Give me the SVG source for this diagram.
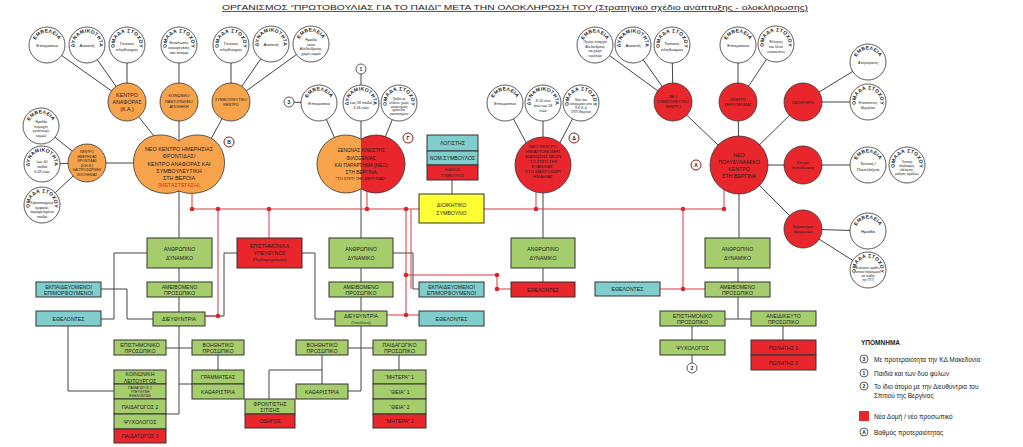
<svg xmlns="http://www.w3.org/2000/svg" width="1023" height="447" viewBox="0 0 1023 447">
<defs>
<path id="arc" d="M -11.75 4.28 A 12.5 12.5 0 1 1 11.75 4.28"/>
<linearGradient id="venn" x1="0" y1="0" x2="1" y2="0"><stop offset="0.5" stop-color="#f6a34c"/><stop offset="0.5" stop-color="#e8262b"/></linearGradient>
</defs>
<style>
text{font-family:"Liberation Sans",Arial,sans-serif;fill:#222;text-anchor:middle}
.w{fill:#fff;stroke:#333;stroke-width:0.8}
.o{fill:#f6a34c;stroke:#333;stroke-width:0.8}
.r{fill:#e8262b;stroke:#333;stroke-width:0.8}
.g{fill:#a6cd6c;stroke:#333;stroke-width:1}
.t{fill:#7fcdcd;stroke:#333;stroke-width:1}
.rb{fill:#e8262b;stroke:#333;stroke-width:1}
.yb{fill:#ffff33;stroke:#333;stroke-width:1}
.ln{stroke:#444;stroke-width:1;fill:none}
.rl{stroke:#d8393f;stroke-width:1;fill:none}
.dot{fill:#d8262e}
.ct{font-size:5px;font-weight:bold;letter-spacing:0.3px}
.ci{font-size:4.4px}
.cs{font-size:3.6px}
.fc{font-size:4.6px}
.fs{font-size:3.8px}
.bt{font-size:5.2px}
.bs{font-size:3.8px}
.pr{fill:#fff;stroke:#8b1a1a;stroke-width:1}
.nm{fill:#fff;stroke:#333;stroke-width:0.8}
.pl{font-size:5px;font-weight:bold}
.lg{font-size:6.5px;text-anchor:start}
</style>

<text x="222" y="10" font-size="7.5" style="text-anchor:start" textLength="586" lengthAdjust="spacingAndGlyphs" text-decoration="underline">ΟΡΓΑΝΙΣΜΟΣ “ΠΡΩΤΟΒΟΥΛΙΑΣ ΓΙΑ ΤΟ ΠΑΙΔΙ” ΜΕΤΑ ΤΗΝ ΟΛΟΚΛΗΡΩΣΗ ΤΟΥ (Στρατηγικό σχέδιο ανάπτυξης - ολοκλήρωσης)</text>

<g id="connectors">
<!-- left top cluster -->
<path class="ln" d="M47,45 L127,102 M87,45 L127,102 M127,45 L127,102 M179,45 L179,102 M231,45 L231,102 M271,44 L231,102 M311,44 L231,102"/>
<path class="ln" d="M127,102 L165,150 M179,102 L179,150 M231,102 L205,150"/>
<path class="ln" d="M41,126 L87,163 M42,164 L87,163 M42,205 L87,163 M87,163 L140,163"/>
<!-- venn cluster -->
<path class="ln" d="M289,102 L319,103 M361,69 L361,103 M319,103 L340,150 M399,103 L380,150 M361,103 L361,238"/>
<!-- col3 cluster -->
<path class="ln" d="M505,103 L530,150 M581,103 L556,150 M543,103 L543,238 M543,268 L543,282"/>
<!-- right cluster -->
<path class="ln" d="M595,45 L673,102 M633,45 L673,102 M672,45 L673,102 M673,102 L739,165 M738,45 L738,102 M776,45 L738,102 M738,102 L739,165 M803,102 L739,165 M803,102 L868,62 M803,102 L868,102 M739,165 L868,165 M739,165 L803,229 M803,229 L868,231 M803,229 L868,270"/>
<!-- col1 tree -->
<path class="ln" d="M179,180 L179,414 L166,414 M147,253 L114,253 L114,319 L101,319 M101,289 L127,289 L127,319 L153,319 M68,326 L68,391 L114,391 M166,348 L192,348 M218,355 L218,370 M179,384 L192,384 M237,253 L224,253 L224,316 L205,316"/>
<!-- col2 tree -->
<path class="ln" d="M361,268 L361,391 L348,391 M302,253 L315,253 L315,319 L335,319 M393,253 L413,253 L413,289 L419,289 M348,348 L373,348 M322,355 L322,384 M322,370 L269,370 L269,399 M399,355 L399,370 M452,180 L452,194"/>
<!-- col4 tree -->
<path class="ln" d="M739,165 L739,238 M738,268 L738,319 M725,319 L751,319 M692,326 L692,340 M783,326 L783,340 M692,355 L692,363"/>
<!-- red network -->
<path class="rl" d="M192,185 L192,209 L724,209 L724,188 M367,185 L367,209 M536,190 L536,209 M218,209 L218,316 L205,316 M269,209 L269,238 M406,209 L406,315 L419,315 M387,315 L406,315 M411,209 L411,289 M406,275 L497,275 L497,289 L511,289 M683,209 L683,289 M660,289 L705,289"/>
<g class="dot">
<circle cx="192" cy="209" r="2.3"/><circle cx="218" cy="209" r="2.3"/><circle cx="269" cy="209" r="2.3"/><circle cx="367" cy="209" r="2.3"/><circle cx="406" cy="209" r="2.3"/><circle cx="536" cy="209" r="2.3"/><circle cx="683" cy="209" r="2.3"/><circle cx="724" cy="209" r="2.3"/>
<circle cx="218" cy="316" r="2.3"/><circle cx="406" cy="315" r="2.3"/><circle cx="406" cy="275" r="2.3"/><circle cx="497" cy="275" r="2.3"/><circle cx="497" cy="289" r="2.3"/><circle cx="683" cy="289" r="2.3"/>
</g>
</g>

<!-- white circles -->
<g id="c1" transform="translate(47,45)"><circle class="w" r="18"/><text class="ct"><textPath href="#arc" startOffset="50%">ΕΜΒΕΛΕΙΑ</textPath></text><text class="ci" y="2">Επικράτεια</text></g>
<g id="c2" transform="translate(87,45)"><circle class="w" r="18"/><text class="ct"><textPath href="#arc" startOffset="50%">ΔΥΝΑΜΙΚΟΤΗΤΑ</textPath></text><text class="ci" y="2">Ανοικτή</text></g>
<g id="c3" transform="translate(127,45)"><circle class="w" r="18"/><text class="ct"><textPath href="#arc" startOffset="50%">ΟΜΑΔΑ ΣΤΟΧΟΥ</textPath></text><text class="ci"><tspan x="0" y="0">Γενικός</tspan><tspan x="0" y="5.5">πληθυσμός</tspan></text></g>
<g id="c4" transform="translate(179,45)"><circle class="w" r="18"/><text class="ct"><textPath href="#arc" startOffset="50%">ΟΜΑΔΑ ΣΤΟΧΟΥ</textPath></text><text class="ci"><tspan x="0" y="-1">Ευάλωτες</tspan><tspan x="0" y="4">οικογένειες</tspan><tspan x="0" y="9">και άτομα</tspan></text></g>
<g id="c5" transform="translate(231,45)"><circle class="w" r="18"/><text class="ct"><textPath href="#arc" startOffset="50%">ΟΜΑΔΑ ΣΤΟΧΟΥ</textPath></text><text class="ci"><tspan x="0" y="0">Γενικός</tspan><tspan x="0" y="5.5">πληθυσμός</tspan></text></g>
<g id="c6" transform="translate(271,44)"><circle class="w" r="18"/><text class="ct"><textPath href="#arc" startOffset="50%">ΔΥΝΑΜΙΚΟΤΗΤΑ</textPath></text><text class="ci" y="2">Ανοικτή</text></g>
<g id="c7" transform="translate(311,44)"><circle class="w" r="18"/><text class="ct"><textPath href="#arc" startOffset="50%">ΕΜΒΕΛΕΙΑ</textPath></text><text class="cs"><tspan x="0" y="-3">Ημαθία</tspan><tspan x="0" y="1.5">νότιο</tspan><tspan x="0" y="6">Αλεξάνδρειας,</tspan><tspan x="0" y="10.5">χώρο νομού</tspan></text></g>
<g id="c8" transform="translate(41,126)"><circle class="w" r="18"/><text class="ct"><textPath href="#arc" startOffset="50%">ΕΜΒΕΛΕΙΑ</textPath></text><text class="cs"><tspan x="0" y="-3">Ημαθία</tspan><tspan x="0" y="1.5">περιοχές</tspan><tspan x="0" y="6">γειτονικών</tspan><tspan x="0" y="10.5">νομών</tspan></text></g>
<g id="c9" transform="translate(42,164)"><circle class="w" r="18"/><text class="ct"><textPath href="#arc" startOffset="50%">ΔΥΝΑΜΙΚΟΤΗΤΑ</textPath></text><text class="cs"><tspan x="0" y="-1">έως 40</tspan><tspan x="0" y="4">παιδιά</tspan><tspan x="0" y="9">6-18 ετών</tspan></text></g>
<g id="c10" transform="translate(42,205)"><circle class="w" r="18"/><text class="ct"><textPath href="#arc" startOffset="50%">ΟΜΑΔΑ ΣΤΟΧΟΥ</textPath></text><text class="cs"><tspan x="0" y="-1">Κακοποιημένα</tspan><tspan x="0" y="3.5">ορφανά,</tspan><tspan x="0" y="8">παραμελημένα</tspan><tspan x="0" y="12.5">παιδιά</tspan></text></g>
<g id="c11" transform="translate(319,103)"><circle class="w" r="18"/><text class="ct"><textPath href="#arc" startOffset="50%">ΕΜΒΕΛΕΙΑ</textPath></text><text class="ci" y="2">Επικράτεια</text></g>
<g id="c12" transform="translate(361,103)"><circle class="w" r="18"/><text class="ct"><textPath href="#arc" startOffset="50%">ΔΥΝΑΜΙΚΟΤΗΤΑ</textPath></text><text class="cs"><tspan x="0" y="1">έως 28 παιδιά</tspan><tspan x="0" y="6">3-18 ετών</tspan></text></g>
<g id="c13" transform="translate(399,103)"><circle class="w" r="18"/><text class="ct"><textPath href="#arc" startOffset="50%">ΟΜΑΔΑ ΣΤΟΧΟΥ</textPath></text><text style="font-size:3px"><tspan x="0" y="-3">Παιδιά σε</tspan><tspan x="0" y="0.8">κίνδυνο, χωρίς</tspan><tspan x="0" y="4.6">οικογενειακή</tspan><tspan x="0" y="8.4">φροντίδα,</tspan><tspan x="0" y="12.2">κακοποιημένα</tspan></text></g>
<g id="c14" transform="translate(505,103)"><circle class="w" r="18"/><text class="ct"><textPath href="#arc" startOffset="50%">ΕΜΒΕΛΕΙΑ</textPath></text><text class="ci" y="2">Επικράτεια</text></g>
<g id="c15" transform="translate(543,103)"><circle class="w" r="18"/><text class="ct"><textPath href="#arc" startOffset="50%">ΔΥΝΑΜΙΚΟΤΗΤΑ</textPath></text><text class="cs"><tspan x="0" y="-1">8-10 νέοι</tspan><tspan x="0" y="4">άνω των 18</tspan><tspan x="0" y="9">ετών</tspan></text></g>
<g id="c16" transform="translate(581,103)"><circle class="w" r="18"/><text class="ct"><textPath href="#arc" startOffset="50%">ΟΜΑΔΑ ΣΤΟΧΟΥ</textPath></text><text style="font-size:3px"><tspan x="0" y="-2">Νέοι που</tspan><tspan x="0" y="2">αποχωρούν από</tspan><tspan x="0" y="6">Κ.Κ.Φ. &amp;</tspan><tspan x="0" y="10">ΣΠΙΤΙ Βεργίνας</tspan></text></g>
<g id="c17" transform="translate(595,45)"><circle class="w" r="18"/><text class="ct"><textPath href="#arc" startOffset="50%">ΕΜΒΕΛΕΙΑ</textPath></text><text style="font-size:3.3px"><tspan x="0" y="-2">Πρώην επαρχία</tspan><tspan x="0" y="2.5">Αλεξάνδρειας</tspan><tspan x="0" y="7">και χώρο</tspan><tspan x="0" y="11.5">ευρύτερα</tspan></text></g>
<g id="c18" transform="translate(633,45)"><circle class="w" r="18"/><text class="ct"><textPath href="#arc" startOffset="50%">ΔΥΝΑΜΙΚΟΤΗΤΑ</textPath></text><text class="ci" y="2">Ανοικτή</text></g>
<g id="c19" transform="translate(672,45)"><circle class="w" r="18"/><text class="ct"><textPath href="#arc" startOffset="50%">ΟΜΑΔΑ ΣΤΟΧΟΥ</textPath></text><text class="ci"><tspan x="0" y="0">Τοπικός</tspan><tspan x="0" y="5.5">πληθυσμός</tspan></text></g>
<g id="c20" transform="translate(738,45)"><circle class="w" r="18"/><text class="ct"><textPath href="#arc" startOffset="50%">ΕΜΒΕΛΕΙΑ</textPath></text><text class="ci" y="2">Επικράτεια</text></g>
<g id="c21" transform="translate(776,44)"><circle class="w" r="18"/><text class="ct"><textPath href="#arc" startOffset="50%">ΟΜΑΔΑ ΣΤΟΧΟΥ</textPath></text><text class="cs"><tspan x="0" y="-1">Έλληνες</tspan><tspan x="0" y="4">και ξένοι</tspan><tspan x="0" y="9">επισκέπτες</tspan></text></g>
<g id="c22" transform="translate(868,62)"><circle class="w" r="18"/><text class="ct"><textPath href="#arc" startOffset="50%">ΕΜΒΕΛΕΙΑ</textPath></text><text class="cs" y="2">Απεριόριστη</text></g>
<g id="c23" transform="translate(868,102)"><circle class="w" r="18"/><text class="ct"><textPath href="#arc" startOffset="50%">ΟΜΑΔΑ ΣΤΟΧΟΥ</textPath></text><text class="cs"><tspan x="0" y="2">Επισκέπτες</tspan><tspan x="0" y="7">Βεργίνας</tspan></text></g>
<g id="c24" transform="translate(868,165)"><circle class="w" r="18"/><text class="ct"><textPath href="#arc" startOffset="50%">ΕΜΒΕΛΕΙΑ</textPath></text><text class="ci"><tspan x="0" y="0">Τοπική /</tspan><tspan x="0" y="6">Πανελλήνια</tspan></text></g>
<g id="c25" transform="translate(907,165)"><circle class="w" r="18"/><text class="ct"><textPath href="#arc" startOffset="50%">ΟΜΑΔΑ ΣΤΟΧΟΥ</textPath></text><text style="font-size:3px"><tspan x="0" y="-2">Τοπικός</tspan><tspan x="0" y="2">πληθυσμός,</tspan><tspan x="0" y="6">εθελοντές,</tspan><tspan x="0" y="10">μαθητές σχολείων</tspan></text></g>
<g id="c26" transform="translate(868,231)"><circle class="w" r="18"/><text class="ct"><textPath href="#arc" startOffset="50%">ΕΜΒΕΛΕΙΑ</textPath></text><text class="ci" y="2">Ημαθία</text></g>
<g id="c27" transform="translate(868,270)"><circle class="w" r="18"/><text class="ct"><textPath href="#arc" startOffset="50%">ΟΜΑΔΑ ΣΤΟΧΟΥ</textPath></text><text style="font-size:3px"><tspan x="0" y="-1">Ευάλωτες ομάδες,</tspan><tspan x="0" y="3">τοπικοί παραγωγοί,</tspan><tspan x="0" y="7">και παιδιά</tspan><tspan x="0" y="11">της ΠΓΠ</tspan></text></g>

<!-- filled small circles -->
<g id="o1"><circle class="o" cx="127" cy="102" r="19"/><text style="font-size:5.3px"><tspan x="127" y="97">ΚΕΝΤΡΟ</tspan><tspan x="127" y="104">ΑΝΑΦΟΡΑΣ</tspan><tspan x="127" y="111">(Κ.Α.)</tspan></text></g>
<g id="o2"><circle class="o" cx="179" cy="102" r="19"/><text class="fs"><tspan x="179" y="97">ΚΟΙΝΩΝΙΚΟ</tspan><tspan x="179" y="102.5">ΠΑΝΤΟΠΩΛΕΙΟ</tspan><tspan x="179" y="108">ΑΠΟΘΗΚΗ</tspan></text></g>
<g id="o3"><circle class="o" cx="231" cy="102" r="19"/><text class="fs"><tspan x="231" y="101">ΣΥΜΒΟΥΛΕΥΤΙΚΟ</tspan><tspan x="231" y="106">ΚΕΝΤΡΟ</tspan></text></g>
<g id="o4"><circle class="o" cx="87" cy="163" r="19"/><text style="font-size:3.4px"><tspan x="87" y="153">ΚΕΝΤΡΟ</tspan><tspan x="87" y="157.5">ΗΜΕΡΗΣΙΑΣ</tspan><tspan x="87" y="162">ΦΡΟΝΤΙΔΑΣ</tspan><tspan x="87" y="166.5">(Κ.Η.Φ.)</tspan><tspan x="87" y="171">ΚΑΙ ΠΡΟΣΩΡΙΝΗΣ</tspan><tspan x="87" y="175.5">ΦΙΛΟΞΕΝΙΑΣ</tspan></text></g>
<g id="r1"><circle class="r" cx="673" cy="102" r="19"/><text class="fs"><tspan x="673" y="98">ΝΕΟ</tspan><tspan x="673" y="103">ΣΥΜΒΟΥΛΕΥΤΙΚΟ</tspan><tspan x="673" y="108">ΚΕΝΤΡΟ</tspan></text></g>
<g id="r2"><circle class="r" cx="738" cy="102" r="19"/><text class="fs"><tspan x="738" y="101">ΚΕΝΤΡΟ</tspan><tspan x="738" y="106">ΧΕΙΡΟΤΕΧΝΙΑΣ</tspan></text></g>
<g id="r3"><circle class="r" cx="803" cy="102" r="19"/><text class="fs" x="803" y="104">ΠΩΛΗΤΗΡΙΟ</text></g>
<g id="r4"><circle class="r" cx="803" cy="165" r="19"/><text class="fs"><tspan x="803" y="164">Κέντρο</tspan><tspan x="803" y="169">Εκπαίδευσης</tspan></text></g>
<g id="r5"><circle class="r" cx="803" cy="229" r="19"/><text class="fs"><tspan x="803" y="228">Εργαστήριο</tspan><tspan x="803" y="233">ζαχαρωτών</tspan></text></g>

<!-- main nodes -->
<g id="cloud"><path class="o" d="M179,141 C171,134 153,132 143,141 C131,151 130,172 142,184 C151,193 168,196 179,191 C190,196 208,193 216,184 C228,172 227,151 215,141 C205,132 187,134 179,141 Z"/>
<text style="font-size:5.4px"><tspan x="179" y="151">ΝΕΟ ΚΕΝΤΡΟ ΗΜΕΡΗΣΙΑΣ</tspan><tspan x="179" y="158">ΦΡΟΝΤΙΔΑΣ/</tspan><tspan x="179" y="166">ΚΕΝΤΡΟ ΑΝΑΦΟΡΑΣ ΚΑΙ</tspan><tspan x="179" y="173">ΣΥΜΒΟΥΛΕΥΤΙΚΗ</tspan><tspan x="179" y="180">ΣΤΗ ΒΕΡΟΙΑ</tspan><tspan x="179" y="186.5" style="fill:#e8262b">(ΜΕΤΑΣΤΕΓΑΣΗ)</tspan></text></g>
<g id="venn"><path d="M361,139.2 A29,29 0 1 0 361,188.8 A29,29 0 1 0 361,139.2 Z" fill="url(#venn)" stroke="#333" stroke-width="0.8"/>
<text style="font-size:4.8px"><tspan x="361" y="152">ΞΕΝΩΝΑΣ ΚΛΕΙΣΤΗΣ</tspan><tspan x="361" y="159.5">ΦΙΛΟΞΕΝΙΑΣ</tspan><tspan x="361" y="166.5">ΚΑΙ ΠΑΡΑΡΤΗΜΑ (ΝΕΟ)</tspan><tspan x="361" y="173.5">ΣΤΗ ΒΕΡΓΙΝΑ</tspan><tspan x="361" y="180" style="font-size:4.2px">“ΤΟ ΣΠΙΤΙ ΤΗΣ ΒΕΡΓΙΝΑΣ”</tspan></text></g>
<g id="R1"><circle class="r" cx="543" cy="165" r="28"/><text style="font-size:4.3px"><tspan x="543" y="148">ΝΕΟ ΚΕΝΤΡΟ</tspan><tspan x="543" y="153">ΗΜΙΑΥΤΟΝΟΜΗΣ</tspan><tspan x="543" y="158">ΔΙΑΒΙΩΣΗΣ ΝΕΩΝ</tspan><tspan x="543" y="163">“ΤΟ ΣΠΙΤΙ ΤΗΣ</tspan><tspan x="543" y="168">ΕΥΑΝΘΙΑΣ”</tspan><tspan x="543" y="173">ΣΤΟ ΜΑΚΡΟΧΩΡΙ</tspan><tspan x="543" y="178">ΗΜΑΘΙΑΣ</tspan></text></g>
<g id="R2"><circle class="r" cx="739" cy="165" r="29"/><text style="font-size:5.3px"><tspan x="739" y="157">ΝΕΟ</tspan><tspan x="739" y="164">ΠΟΛΥΔΥΝΑΜΙΚΟ</tspan><tspan x="739" y="171">ΚΕΝΤΡΟ</tspan><tspan x="739" y="178">ΣΤΗ ΒΕΡΓΙΝΑ</tspan></text></g>

<!-- priority / number labels -->
<g id="pB"><circle class="pr" cx="229" cy="142" r="5"/><text class="pl" x="229" y="144">Β</text></g>
<g id="pG"><circle class="pr" cx="408" cy="138" r="5"/><text class="pl" x="408" y="140">Γ</text></g>
<g id="pD"><circle class="pr" cx="574" cy="138" r="5"/><text class="pl" x="574" y="140">Δ</text></g>
<g id="pA"><circle class="pr" cx="696" cy="165" r="5"/><text class="pl" x="696" y="167">Α</text></g>
<g id="n3"><circle class="nm" cx="289" cy="102" r="5"/><text class="pl" x="289" y="104">3</text></g>
<g id="n1"><circle class="nm" cx="361" cy="69" r="5"/><text class="pl" x="361" y="71">1</text></g>
<g id="n2"><circle class="nm" cx="692" cy="368" r="5"/><text class="pl" x="692" y="370">2</text></g>

<!-- boxes: admin -->
<g id="logistis"><rect class="t" x="427" y="135" width="51" height="16"/><text class="bt" x="452.5" y="145">ΛΟΓΙΣΤΗΣ</text></g>
<g id="nomsymv"><rect class="t" x="427" y="151" width="51" height="14"/><text class="bt" x="452.5" y="160">ΝΟΜ.ΣΥΜΒΟΥΛΟΣ</text></g>
<g id="eidikos"><rect class="rb" x="427" y="165" width="51" height="15"/><text class="bs"><tspan x="452.5" y="171">ΕΙΔΙΚΟΣ</tspan><tspan x="452.5" y="176.5">ΣΥΜΒΟΥΛΟΣ</tspan></text></g>
<g id="dioikitiko"><rect class="yb" x="419" y="194" width="65" height="29"/><text class="bt"><tspan x="451.5" y="207">ΔΙΟΙΚΗΤΙΚΟ</tspan><tspan x="451.5" y="214.5">ΣΥΜΒΟΥΛΙΟ</tspan></text></g>

<!-- col1 boxes -->
<g id="a1"><rect class="g" x="147" y="238" width="65" height="30"/><text class="bt"><tspan x="179.5" y="251">ΑΝΘΡΩΠΙΝΟ</tspan><tspan x="179.5" y="259.5">ΔΥΝΑΜΙΚΟ</tspan></text></g>
<g id="am1"><rect class="g" x="147" y="282" width="65" height="15"/><text class="bt"><tspan x="179.5" y="288.5">ΑΜΕΙΒΟΜΕΝΟ</tspan><tspan x="179.5" y="295">ΠΡΟΣΩΠΙΚΟ</tspan></text></g>
<g id="ek1"><rect class="t" x="36" y="282" width="65" height="15"/><text class="bt"><tspan x="68.5" y="288.5">ΕΚΠΑΙΔΕΥΟΜΕΝΟΙ</tspan><tspan x="68.5" y="295">ΕΠΙΜΟΡΦΟΥΜΕΝΟΙ</tspan></text></g>
<g id="eth1"><rect class="t" x="36" y="311" width="65" height="15"/><text class="bt" x="68.5" y="320.5">ΕΘΕΛΟΝΤΕΣ</text></g>
<g id="di1"><rect class="g" x="153" y="312" width="52" height="14"/><text class="bt" x="179" y="321">ΔΙΕΥΘΥΝΤΡΙΑ</text></g>
<g id="ep1"><rect class="rb" x="237" y="238" width="65" height="30"/><text class="bt"><tspan x="269.5" y="248">ΕΠΙΣΤΗΜΟΝΙΚΑ</tspan><tspan x="269.5" y="254.5">ΥΠΕΥΘΥΝΟΣ</tspan><tspan x="269.5" y="261" style="font-size:4.3px">(Παιδοψυχίατρος)</tspan></text></g>
<g id="es1"><rect class="g" x="114" y="340" width="52" height="15"/><text class="bt"><tspan x="140" y="346.5">ΕΠΙΣΤΗΜΟΝΙΚΟ</tspan><tspan x="140" y="353">ΠΡΟΣΩΠΙΚΟ</tspan></text></g>
<g id="bo1"><rect class="g" x="192" y="340" width="52" height="15"/><text class="bt"><tspan x="218" y="346.5">ΒΟΗΘΗΤΙΚΟ</tspan><tspan x="218" y="353">ΠΡΟΣΩΠΙΚΟ</tspan></text></g>
<g id="kl1"><rect class="g" x="114" y="370" width="52" height="14"/><text class="bt"><tspan x="140" y="376">ΚΟΙΝΩΝΙΚΗ</tspan><tspan x="140" y="382.5">ΛΕΙΤΟΥΡΓΟΣ</tspan></text></g>
<g id="pa1"><rect class="g" x="114" y="384" width="52" height="15"/><text style="font-size:3.4px"><tspan x="140" y="388.5">ΠΑΙΔΑΓΩΓΟΣ 1</tspan><tspan x="140" y="392.7">ΥΠΕΥΘΥΝΗ</tspan><tspan x="140" y="396.9">ΕΘΕΛΟΝΤΩΝ</tspan></text></g>
<g id="pa2"><rect class="g" x="114" y="399" width="52" height="15"/><text class="bt" x="140" y="408.5">ΠΑΙΔΑΓΩΓΟΣ 2</text></g>
<g id="ps1"><rect class="g" x="114" y="414" width="52" height="15"/><text class="bt" x="140" y="423.5">ΨΥΧΟΛΟΓΟΣ</text></g>
<g id="pa3"><rect class="rb" x="114" y="429" width="52" height="14"/><text class="bt" x="140" y="438">ΠΑΙΔΑΓΩΓΟΣ 3</text></g>
<g id="gr1"><rect class="g" x="192" y="370" width="52" height="14"/><text class="bt" x="218" y="379">ΓΡΑΜΜΑΤΕΑΣ</text></g>
<g id="ka1"><rect class="g" x="192" y="384" width="52" height="15"/><text class="bt" x="218" y="393.5">ΚΑΘΑΡΙΣΤΡΙΑ</text></g>

<!-- col2 boxes -->
<g id="a2"><rect class="g" x="329" y="238" width="64" height="30"/><text class="bt"><tspan x="361" y="251">ΑΝΘΡΩΠΙΝΟ</tspan><tspan x="361" y="259.5">ΔΥΝΑΜΙΚΟ</tspan></text></g>
<g id="am2"><rect class="g" x="329" y="282" width="64" height="15"/><text class="bt"><tspan x="361" y="288.5">ΑΜΕΙΒΟΜΕΝΟ</tspan><tspan x="361" y="295">ΠΡΟΣΩΠΙΚΟ</tspan></text></g>
<g id="di2"><rect class="g" x="335" y="311" width="52" height="15"/><text class="bt"><tspan x="361" y="317.5">ΔΙΕΥΘΥΝΤΡΙΑ</tspan><tspan x="361" y="323.5" style="font-size:3.8px">(Υπεύθυνη)</tspan></text></g>
<g id="ek2"><rect class="t" x="419" y="282" width="65" height="15"/><text class="bt"><tspan x="451.5" y="288.5">ΕΚΠΑΙΔΕΥΟΜΕΝΟΙ</tspan><tspan x="451.5" y="295">ΕΠΙΜΟΡΦΟΥΜΕΝΟΙ</tspan></text></g>
<g id="eth2"><rect class="t" x="419" y="311" width="65" height="15"/><text class="bt" x="451.5" y="320.5">ΕΘΕΛΟΝΤΕΣ</text></g>
<g id="bo2"><rect class="g" x="296" y="340" width="52" height="15"/><text class="bt"><tspan x="322" y="346.5">ΒΟΗΘΗΤΙΚΟ</tspan><tspan x="322" y="353">ΠΡΟΣΩΠΙΚΟ</tspan></text></g>
<g id="pg2"><rect class="g" x="373" y="340" width="53" height="15"/><text class="bt"><tspan x="399.5" y="346.5">ΠΑΙΔΑΓΩΓΙΚΟ</tspan><tspan x="399.5" y="353">ΠΡΟΣΩΠΙΚΟ</tspan></text></g>
<g id="ka2"><rect class="g" x="296" y="384" width="52" height="15"/><text class="bt" x="322" y="393.5">ΚΑΘΑΡΙΣΤΡΙΑ</text></g>
<g id="fs2"><rect class="g" x="245" y="399" width="50" height="15"/><text class="bt"><tspan x="270" y="405.5">ΦΡΟΝΤΙΣΤΗΣ</tspan><tspan x="270" y="412">ΣΙΤΙΣΗΣ</tspan></text></g>
<g id="od2"><rect class="rb" x="245" y="414" width="50" height="14"/><text class="bt" x="270" y="423">ΟΔΗΓΟΣ</text></g>
<g id="m1"><rect class="g" x="373" y="370" width="53" height="14"/><text class="bt" x="399.5" y="379">“ΜΗΤΕΡΑ” 1</text></g>
<g id="th1"><rect class="g" x="373" y="384" width="53" height="15"/><text class="bt" x="399.5" y="393.5">“ΘΕΙΑ” 1</text></g>
<g id="th2"><rect class="g" x="373" y="399" width="53" height="15"/><text class="bt" x="399.5" y="408.5">“ΘΕΙΑ” 2</text></g>
<g id="m2"><rect class="rb" x="373" y="414" width="53" height="14"/><text class="bt" x="399.5" y="423">“ΜΗΤΕΡΑ” 2</text></g>

<!-- col3 boxes -->
<g id="a3"><rect class="g" x="511" y="238" width="64" height="30"/><text class="bt"><tspan x="543" y="251">ΑΝΘΡΩΠΙΝΟ</tspan><tspan x="543" y="259.5">ΔΥΝΑΜΙΚΟ</tspan></text></g>
<g id="eth3"><rect class="rb" x="511" y="282" width="64" height="15"/><text class="bt" x="543" y="291.5">ΕΘΕΛΟΝΤΕΣ</text></g>

<!-- col4 boxes -->
<g id="a4"><rect class="g" x="705" y="238" width="65" height="30"/><text class="bt"><tspan x="737.5" y="251">ΑΝΘΡΩΠΙΝΟ</tspan><tspan x="737.5" y="259.5">ΔΥΝΑΜΙΚΟ</tspan></text></g>
<g id="am4"><rect class="g" x="705" y="282" width="65" height="15"/><text class="bt"><tspan x="737.5" y="288.5">ΑΜΕΙΒΟΜΕΝΟ</tspan><tspan x="737.5" y="295">ΠΡΟΣΩΠΙΚΟ</tspan></text></g>
<g id="eth4"><rect class="t" x="595" y="282" width="65" height="14"/><text class="bt" x="627.5" y="291">ΕΘΕΛΟΝΤΕΣ</text></g>
<g id="es4"><rect class="g" x="660" y="311" width="65" height="15"/><text class="bt"><tspan x="692.5" y="317.5">ΕΠΙΣΤΗΜΟΝΙΚΟ</tspan><tspan x="692.5" y="324">ΠΡΟΣΩΠΙΚΟ</tspan></text></g>
<g id="an4"><rect class="g" x="751" y="311" width="65" height="15"/><text class="bt"><tspan x="783.5" y="317.5">ΑΝΕΙΔΙΚΕΥΤΟ</tspan><tspan x="783.5" y="324">ΠΡΟΣΩΠΙΚΟ</tspan></text></g>
<g id="ps4"><rect class="g" x="660" y="340" width="65" height="15"/><text class="bt" x="692.5" y="349.5">ΨΥΧΟΛΟΓΟΣ</text></g>
<g id="pol1"><rect class="rb" x="751" y="340" width="65" height="15"/><text class="bt" x="783.5" y="349.5">ΠΩΛΗΤΗΣ 1</text></g>
<g id="pol2"><rect class="rb" x="751" y="355" width="65" height="15"/><text class="bt" x="783.5" y="364.5">ΠΩΛΗΤΗΣ 2</text></g>

<!-- legend -->
<g id="legend">
<text class="lg" x="861" y="345" font-weight="bold">ΥΠΟΜΝΗΜΑ</text>
<circle class="nm" cx="864" cy="359" r="4"/><text class="pl" x="864" y="361">3</text><text class="lg" x="874" y="361.5">Με προτεραιότητα την ΚΔ Μακεδονία</text>
<circle class="nm" cx="864" cy="373" r="4"/><text class="pl" x="864" y="375">1</text><text class="lg" x="874" y="375.5">Παιδιά και των δυο φύλων</text>
<circle class="nm" cx="864" cy="386" r="4"/><text class="pl" x="864" y="388">2</text><text class="lg" x="874" y="388.5">Το ίδιο άτομο με την Διευθύντρια του</text><text class="lg" x="874" y="397.5">Σπιτιού της Βεργίνας</text>
<rect x="859" y="411" width="10" height="10" fill="#e8262b"/><text class="lg" x="874" y="418.5">Νέα Δομή / νέο προσωπικό</text>
<circle class="nm" cx="864" cy="432" r="4"/><text class="pl" x="864" y="434">Α</text><text class="lg" x="874" y="434.5">Βαθμός προτεραιότητας</text>
</g>
</svg>
